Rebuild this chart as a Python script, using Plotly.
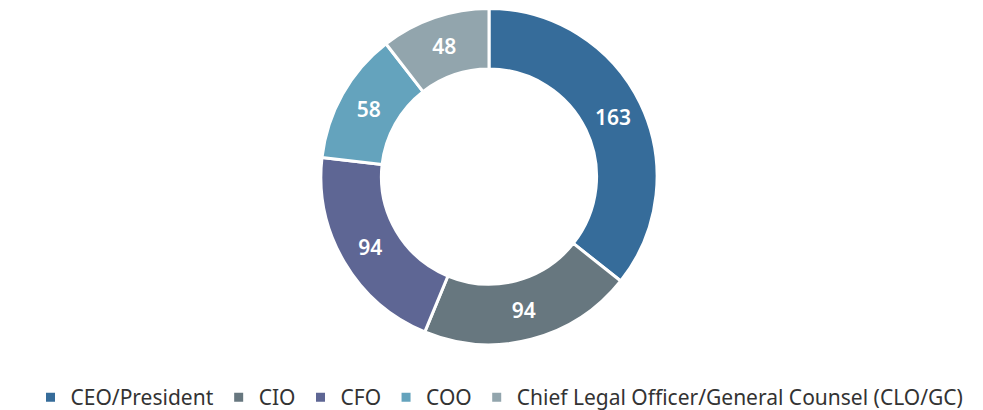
import plotly.graph_objects as go

categories = ["CEO/President", "CIO", "CFO", "COO", "Chief Legal Officer/General Counsel (CLO/GC)"]
values = [163, 94, 94, 58, 48]
colors = ["#366c9a", "#67777f", "#5e6694", "#64a3bd", "#92a5ad"]

W, H = 983, 410
cx, cy, d = 481, 169, 337  # pie box centre / size in px

fig = go.Figure(go.Pie(
    labels=categories,
    values=values,
    hole=0.64,
    sort=False,
    direction="clockwise",
    rotation=0,
    domain=dict(x=[(cx - d / 2) / W, (cx + d / 2) / W],
                y=[(H - cy - d / 2) / H, (H - cy + d / 2) / H]),
    marker=dict(colors=colors, line=dict(color="white", width=3)),
    textinfo="value",
    textposition="inside",
    insidetextorientation="horizontal",
    textfont=dict(color="white", size=21, family="Noto Sans", weight=600),
    hoverinfo="label+value",
))

fig.update_layout(
    width=W, height=H,
    margin=dict(l=0, r=0, t=0, b=0),
    paper_bgcolor="white",
    plot_bgcolor="white",
    font=dict(family="Noto Sans", color="#333333"),
    legend=dict(
        orientation="h",
        x=0.5, xanchor="center",
        y=(H - 390) / H, yanchor="middle",
        font=dict(size=21, color="#333333"),
        itemwidth=30,
    ),
)

fig.write_html("out.html")
